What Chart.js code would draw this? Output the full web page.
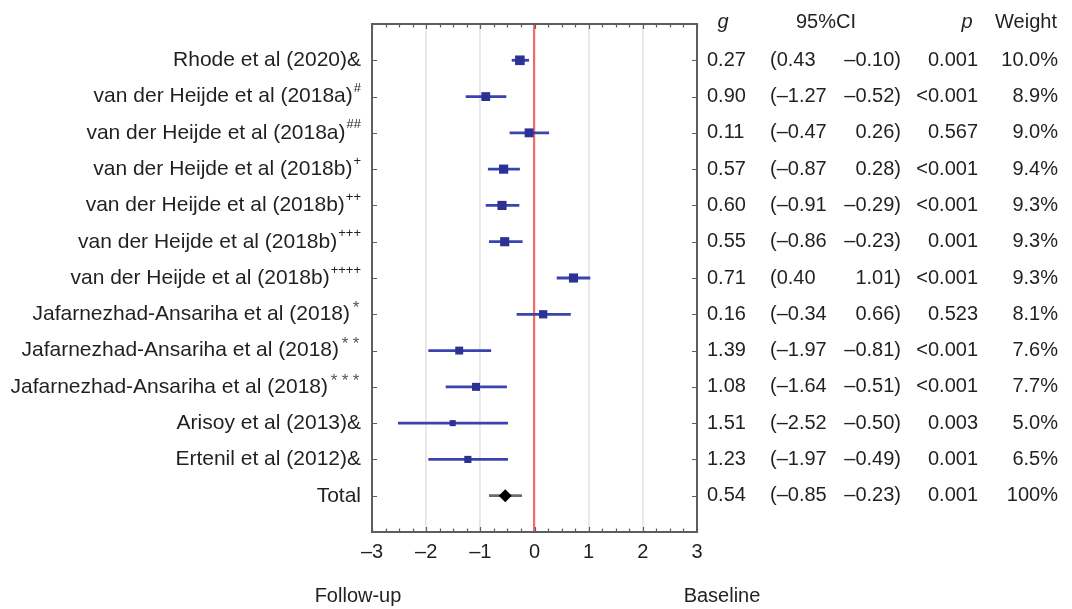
<!DOCTYPE html>
<html lang="en">

<head>
	<meta charset="utf-8">
	<title>Forest plot - follow-up vs baseline</title>
	<script src="https://cdn.jsdelivr.net/npm/chart.js@4.4.1/dist/chart.umd.min.js"></script>
	<style>
		html,
		body {
			margin: 0;
			background: #fff;
		}

		#forest {
			display: block;
		}
	</style>
</head>

<body>
	<canvas id="forest" width="1072" height="609"></canvas>

	<script>
		// study labels and superscript marks
		var studies = ["Rhode et al (2020)&", "van der Heijde et al (2018a)", "van der Heijde et al (2018a)",
			"van der Heijde et al (2018b)", "van der Heijde et al (2018b)", "van der Heijde et al (2018b)",
			"van der Heijde et al (2018b)", "Jafarnezhad-Ansariha et al (2018)", "Jafarnezhad-Ansariha et al (2018)",
			"Jafarnezhad-Ansariha et al (2018)", "Arisoy et al (2013)&", "Ertenil et al (2012)&", "Total"]
		var marks = ["", "#", "##", "+", "++", "+++", "++++", "*", "**", "***", "", "", ""]

		// plotted effect sizes and CI
		var gPlot = [-0.27, -0.90, -0.10, -0.57, -0.60, -0.55, 0.72, 0.16, -1.39, -1.08, -1.51, -1.23, -0.54]
		var ciLow = [-0.42, -1.27, -0.46, -0.86, -0.90, -0.84, 0.41, -0.33, -1.96, -1.64, -2.52, -1.96, -0.84]
		var ciHigh = [-0.10, -0.52, 0.27, -0.27, -0.28, -0.22, 1.03, 0.67, -0.80, -0.51, -0.49, -0.49, -0.23]
		var weights = [10.0, 8.9, 9.0, 9.4, 9.3, 9.3, 9.3, 8.1, 7.6, 7.7, 5.0, 6.5, 100]

		// table text as printed
		var gText = ["0.27", "0.90", "0.11", "0.57", "0.60", "0.55", "0.71", "0.16", "1.39", "1.08", "1.51", "1.23", "0.54"]
		var ciLowText = ["(0.43", "(\u20131.27", "(\u20130.47", "(\u20130.87", "(\u20130.91", "(\u20130.86", "(0.40", "(\u20130.34", "(\u20131.97", "(\u20131.64", "(\u20132.52", "(\u20131.97", "(\u20130.85"]
		var ciHighText = ["\u20130.10)", "\u20130.52)", "0.26)", "0.28)", "\u20130.29)", "\u20130.23)", "1.01)", "0.66)", "\u20130.81)", "\u20130.51)", "\u20130.50)", "\u20130.49)", "\u20130.23)"]
		var pText = ["0.001", "<0.001", "0.567", "<0.001", "<0.001", "0.001", "<0.001", "0.523", "<0.001", "<0.001", "0.003", "0.001", "0.001"]
		var weightText = ["10.0%", "8.9%", "9.0%", "9.4%", "9.3%", "9.3%", "9.3%", "8.1%", "7.6%", "7.7%", "5.0%", "6.5%", "100%"]

		var FONT = "'Liberation Sans', Arial, Helvetica, sans-serif"
		var TEXT = "#231f20"
		var nStudy = studies.length - 1

		Chart.defaults.font.family = FONT
		Chart.defaults.color = TEXT

		var datasets = []
		// study points
		datasets.push({
			type: "scatter",
			data: gPlot.slice(0, nStudy).map(function (g, i) { return { x: g, y: i + 1 } }),
			pointStyle: "rect",
			backgroundColor: "#2c3194",
			borderColor: "#2c3194",
			borderWidth: 0,
			pointRadius: weights.slice(0, nStudy).map(function (w) { return 1.8 + 0.5 * w })
		})
		// total diamond
		datasets.push({
			type: "scatter",
			data: [{ x: gPlot[nStudy], y: nStudy + 1 }],
			pointStyle: "rectRot",
			backgroundColor: "#000",
			borderColor: "#000",
			borderWidth: 0,
			pointRadius: 6.5
		})
		// CI lines
		for (var i = 0; i < studies.length; i++) {
			datasets.push({
				type: "line",
				data: [{ x: ciLow[i], y: i + 1 }, { x: ciHigh[i], y: i + 1 }],
				borderColor: i == nStudy ? "#6b6b6b" : "#3a43b0",
				borderWidth: 2.8,
				pointRadius: 0,
				fill: false
			})
		}

		var tablePlugin = {
			id: "forestTable",
			afterDraw: function (chart) {
				var ctx = chart.ctx
				var area = chart.chartArea
				var xs = chart.scales.x
				var ys = chart.scales.y
				ctx.save()

				// box
				ctx.strokeStyle = "#5e5e5e"
				ctx.lineWidth = 2
				ctx.strokeRect(area.left, area.top, area.right - area.left, area.bottom - area.top)

				// inward tick marks
				ctx.lineWidth = 1.2
				ctx.beginPath()
				for (var t = -3; t <= 3.001; t += 0.25) {
					var px = Math.round(xs.getPixelForValue(t)) + 0.5
					var len = Math.abs(t - Math.round(t)) < 1e-6 ? 5 : 3.5
					ctx.moveTo(px, area.bottom)
					ctx.lineTo(px, area.bottom - len)
					ctx.moveTo(px, area.top)
					ctx.lineTo(px, area.top + len)
				}
				for (var r = 0; r < studies.length; r++) {
					var py = Math.round(ys.getPixelForValue(r + 1)) + 0.5
					ctx.moveTo(area.left, py)
					ctx.lineTo(area.left + 5, py)
					ctx.moveTo(area.right, py)
					ctx.lineTo(area.right - 5, py)
				}
				ctx.stroke()

				ctx.fillStyle = TEXT
				ctx.textBaseline = "middle"

				// study labels with superscripts
				var labelRight = 361
				for (var r = 0; r < studies.length; r++) {
					var y = ys.getPixelForValue(r + 1)
					var supW = 0
					if (marks[r].charAt(0) == "*") {
						// asterisks are spaced wide in the original
						supW = marks[r].length * 11
						ctx.font = "17px " + FONT
						ctx.fillStyle = "#555"
						ctx.textAlign = "center"
						for (var k = 0; k < marks[r].length; k++) {
							ctx.fillText("*", labelRight - supW + 11 * k + 6, y - 6)
						}
						ctx.fillStyle = TEXT
					}
					else if (marks[r]) {
						ctx.font = "13px " + FONT
						ctx.textAlign = "right"
						ctx.fillText(marks[r], labelRight, y - 8)
						supW = ctx.measureText(marks[r]).width + 1
					}
					ctx.font = "21px " + FONT
					ctx.textAlign = "right"
					ctx.fillText(studies[r], labelRight - supW, y)
				}

				// header
				var headY = 22
				ctx.textAlign = "center"
				ctx.font = "italic 20px " + FONT
				ctx.fillText("g", 723, headY)
				ctx.fillText("p", 967, headY)
				ctx.font = "20px " + FONT
				ctx.fillText("95%CI", 826, headY)
				ctx.fillText("Weight", 1026, headY)

				// table rows
				for (var r = 0; r < studies.length; r++) {
					var y = ys.getPixelForValue(r + 1)
					ctx.textAlign = "left"
					ctx.fillText(gText[r], 707, y)
					ctx.fillText(ciLowText[r], 770, y)
					ctx.textAlign = "right"
					ctx.fillText(ciHighText[r], 901, y)
					ctx.fillText(pText[r], 978, y)
					ctx.fillText(weightText[r], 1058, y)
				}

				// direction labels
				ctx.textAlign = "center"
				ctx.fillText("Follow-up", 358, 596)
				ctx.fillText("Baseline", 722, 596)

				ctx.restore()
			}
		}

		var forest = new Chart("forest", {
			data: { datasets: datasets },
			options: {
				responsive: false,
				animation: false,
				layout: {
					padding: { left: 372, right: 375, top: 24, bottom: 37 }
				},
				plugins: {
					legend: { display: false },
					tooltip: { enabled: false }
				},
				scales: {
					x: {
						type: "linear",
						min: -3,
						max: 3,
						border: { display: false },
						ticks: {
							stepSize: 1,
							padding: 8,
							maxRotation: 0,
							color: TEXT,
							font: { size: 20 },
							callback: function (v) { return String(v).replace("-", "\u2013") }
						},
						grid: {
							drawTicks: false,
							color: function (c) {
								if (c.tick.value === 0) return "#f46a6a"
								if (Math.abs(c.tick.value) === 3) return "rgba(0,0,0,0)"
								return "#e6e6e6"
							},
							lineWidth: function (c) { return c.tick.value === 0 ? 2.2 : 1.8 }
						},
						afterFit: function (s) { s.height = 40 }
					},
					y: {
						type: "linear",
						min: 0,
						max: 14,
						reverse: true,
						display: false
					}
				}
			},
			plugins: [tablePlugin]
		});
	</script>
</body>

</html>
